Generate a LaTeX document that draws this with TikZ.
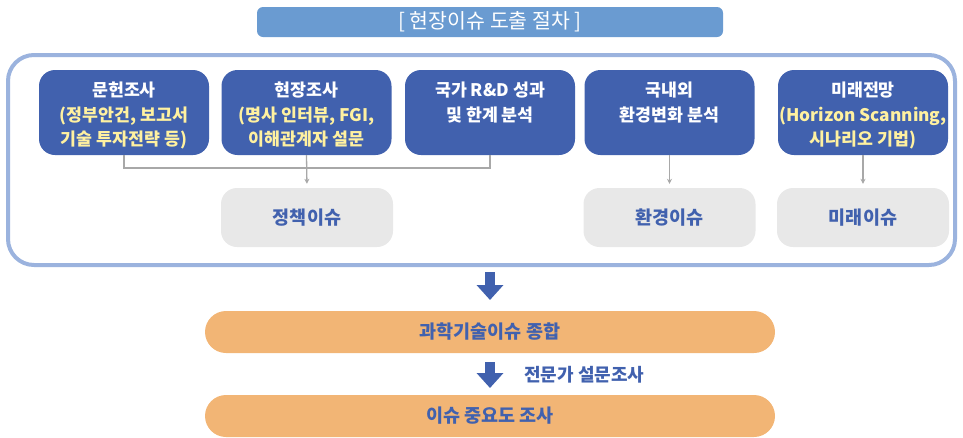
\documentclass[tikz,border=0pt]{standalone}
\usepackage{fontspec}
\setmainfont{Noto Sans CJK KR}
\usetikzlibrary{arrows.meta}
\definecolor{titleblue}{HTML}{6A9BD1}
\definecolor{frameblue}{HTML}{9BB3DE}
\definecolor{boxblue}{HTML}{4161AE}
\definecolor{paleyellow}{HTML}{FFF1A0}
\definecolor{issuegray}{HTML}{E8E8E8}
\definecolor{linegray}{HTML}{A8A8A8}
\definecolor{orangebar}{HTML}{F2B575}
\begin{document}
\begin{tikzpicture}[x=1pt,y=-1pt,
  titlebox/.style={fill=titleblue,rounded corners=6pt,minimum width=466pt,minimum height=30pt,inner sep=0pt,text=white,font=\fontsize{20.5}{22}\selectfont},
  framebox/.style={draw=frameblue,line width=4pt,rounded corners=26pt,minimum width=947pt,minimum height=210pt,inner sep=0pt},
  bluebox/.style={fill=boxblue,rounded corners=16pt,minimum width=170pt,minimum height=85pt,inner sep=0pt},
  boxtext/.style={anchor=north,inner sep=0pt,align=center,text=white,font=\fontsize{17.3}{24.5}\selectfont\bfseries},
  graybox/.style={fill=issuegray,rounded corners=16pt,minimum width=172pt,minimum height=59pt,inner sep=0pt,text=boxblue,font=\fontsize{18.5}{20}\selectfont\bfseries},
  bar/.style={fill=orangebar,rounded corners=21pt,minimum width=570pt,minimum height=42pt,inner sep=0pt,text=boxblue,font=\fontsize{18.5}{20}\selectfont\bfseries},
  conn/.style={draw=linegray,line width=1.3pt},
  connarrow/.style={conn,-{Stealth[length=5pt,width=5pt]},shorten >=4pt},
  bigarrow/.style={draw=boxblue,line width=10pt,-{Triangle[length=15pt,width=26pt]}},
  y={(0pt,-1pt)}]
\useasboundingbox (0,0) rectangle (963,437);

\node[titlebox] (title) at (490,22) {[ 현장이슈 도출 절차 ]};
\node[framebox] (frame) at (481.5,160) {};

\node[bluebox] (b1) at (124,112.5) {};
\node[bluebox] (b2) at (306.5,112.5) {};
\node[bluebox] (b3) at (490,112.5) {};
\node[bluebox] (b4) at (669.5,112.5) {};
\node[bluebox] (b5) at (863,112.5) {};

\node[boxtext] (t1) at ([yshift=-12pt]b1.north) {문헌조사\\\textcolor{paleyellow}{(정부안건, 보고서}\\\textcolor{paleyellow}{기술 투자전략 등)}};
\node[boxtext] (t2) at ([yshift=-12pt]b2.north) {현장조사\\\textcolor{paleyellow}{(명사 인터뷰, FGI,}\\\textcolor{paleyellow}{이해관계자 설문}};
\node[boxtext] (t3) at ([yshift=-12pt]b3.north) {국가 R\&D 성과\\및 한계 분석};
\node[boxtext] (t4) at ([yshift=-12pt]b4.north) {국내외\\환경변화 분석};
\node[boxtext] (t5) at ([yshift=-12pt]b5.north) {미래전망\\\textcolor{paleyellow}{(Horizon Scanning,}\\\textcolor{paleyellow}{시나리오 기법)}};

\node[graybox] (g1) at (307,217.5) {정책이슈};
\node[graybox] (g2) at (669.5,217.5) {환경이슈};
\node[graybox] (g3) at (863,217.5) {미래이슈};

\coordinate (j1) at (b1.south |- 0,168);
\coordinate (j3) at (b3.south |- 0,168);
\draw[conn] (b1.south) -- (j1) -- (j3) -- (b3.south);
\draw[connarrow] (b2.south) -- (g1.north);
\draw[connarrow] (b4.south) -- (g2.north);
\draw[connarrow] (b5.south) -- (g3.north);

\node[bar] (s1) at (490,332) {과학기술이슈 종합};
\node[bar] (s2) at (490,416) {이슈 중요도 조사};

\coordinate (a1s) at (490,272);
\coordinate (a1e) at (490,300);
\coordinate (a2s) at (490,362);
\coordinate (a2e) at (490,388);
\draw[bigarrow] (a1s) -- (a1e);
\draw[bigarrow] (a2s) -- (a2e);
\node[text=boxblue,font=\fontsize{18}{20}\selectfont\bfseries,anchor=west,inner sep=0pt] (survey) at (524,375) {전문가 설문조사};
\end{tikzpicture}
\end{document}
